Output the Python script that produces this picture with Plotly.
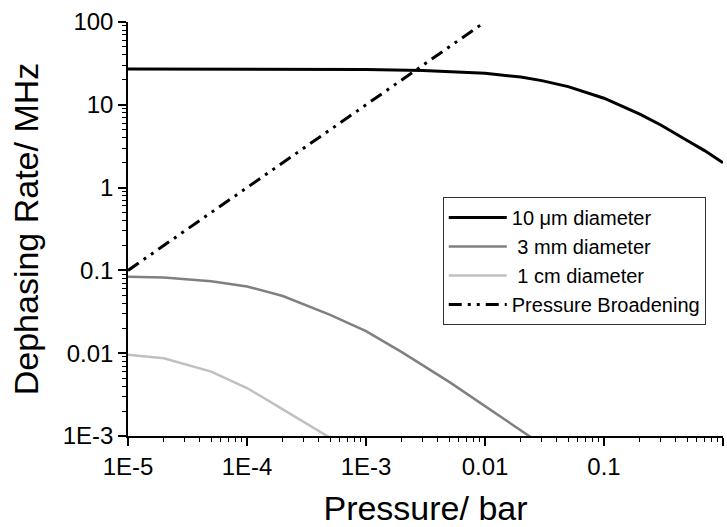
import plotly.graph_objects as go

# Pressure (bar) and dephasing rates (MHz)
p_10um = [1e-5, 1e-4, 1e-3, 3e-3, 0.01, 0.02, 0.03, 0.05, 0.1, 0.2, 0.3, 0.5, 0.7, 1.0]
r_10um = [27.0, 26.9, 26.7, 26.0, 24.0, 21.6, 19.6, 16.6, 12.0, 7.7, 5.7, 3.7, 2.8, 2.0]

p_3mm = [1e-5, 2e-5, 5e-5, 1e-4, 2e-4, 5e-4, 1e-3, 2e-3, 5e-3, 1e-2, 2e-2, 5e-2]
r_3mm = [0.084, 0.082, 0.074, 0.064, 0.049, 0.029, 0.0185, 0.0103, 0.0045, 0.0023, 0.00118, 0.00048]

p_1cm = [1e-5, 2e-5, 5e-5, 1e-4, 2e-4, 5e-4, 1e-3]
r_1cm = [0.0096, 0.0087, 0.0060, 0.0038, 0.0021, 0.00095, 0.00045]

p_pb = [1e-5, 1e-2]
r_pb = [0.1, 100.0]

series_names = ["10 \u03bcm diameter", " 3 mm diameter", " 1 cm diameter", "Pressure Broadening"]

x_tickvals = [1e-5, 1e-4, 1e-3, 1e-2, 1e-1, 1]
x_ticktext = ["1E-5", "1E-4", "1E-3", "0.01", "0.1", "1"]
y_tickvals = [1e-3, 1e-2, 1e-1, 1, 10, 100]
y_ticktext = ["1E-3", "0.01", "0.1", "1", "10", "100"]

FONT = "Liberation Sans, Arial, sans-serif"


def minor_vals(lo_exp, hi_exp):
    return [m * 10.0 ** e for e in range(lo_exp, hi_exp) for m in range(2, 10)]


fig = go.Figure()
fig.add_trace(go.Scatter(x=p_10um, y=r_10um, mode="lines", name=series_names[0],
                         line=dict(color="black", width=3)))
fig.add_trace(go.Scatter(x=p_3mm, y=r_3mm, mode="lines", name=series_names[1],
                         line=dict(color="#808080", width=2.5)))
fig.add_trace(go.Scatter(x=p_1cm, y=r_1cm, mode="lines", name=series_names[2],
                         line=dict(color="#c0c0c0", width=2.5)))
fig.add_trace(go.Scatter(x=p_pb, y=r_pb, mode="lines", name=series_names[3],
                         line=dict(color="black", width=3, dash="13px,6px,3px,6px,3px,6px")))

axis_common = dict(
    showgrid=False, zeroline=False, showline=True, linecolor="black", linewidth=1.5,
    ticks="outside", ticklen=8, tickwidth=1.5, tickcolor="black",
    tickfont=dict(family=FONT, size=24, color="black"),
    mirror=False, automargin=False,
)

fig.update_xaxes(type="log", range=[-5, 0], tickvals=x_tickvals, ticktext=x_ticktext,
                 minor=dict(tickmode="array", tickvals=minor_vals(-5, 0), ticks="outside",
                            ticklen=4, tickwidth=1, tickcolor="black", showgrid=False),
                 title=dict(text="Pressure/ bar", font=dict(family=FONT, size=34, color="black"),
                            standoff=20),
                 **axis_common)
fig.update_yaxes(type="log", range=[-3, 2], tickvals=y_tickvals, ticktext=y_ticktext,
                 minor=dict(tickmode="array", tickvals=minor_vals(-3, 2), ticks="outside",
                            ticklen=4, tickwidth=1, tickcolor="black", showgrid=False),
                 title=dict(text="Dephasing Rate/ MHz", font=dict(family=FONT, size=34, color="black"),
                            standoff=14),
                 **axis_common)

fig.update_layout(
    width=727, height=527,
    margin=dict(l=128, r=4, t=22, b=91),
    plot_bgcolor="white", paper_bgcolor="white",
    font=dict(family=FONT, color="black"),
    legend=dict(x=0.529, y=0.577, xanchor="left", yanchor="top",
                bgcolor="white", bordercolor="#333333", borderwidth=1,
                font=dict(family=FONT, size=20, color="black"),
                itemwidth=58, tracegroupgap=0),
    showlegend=True,
)

fig.write_html("out.html")
